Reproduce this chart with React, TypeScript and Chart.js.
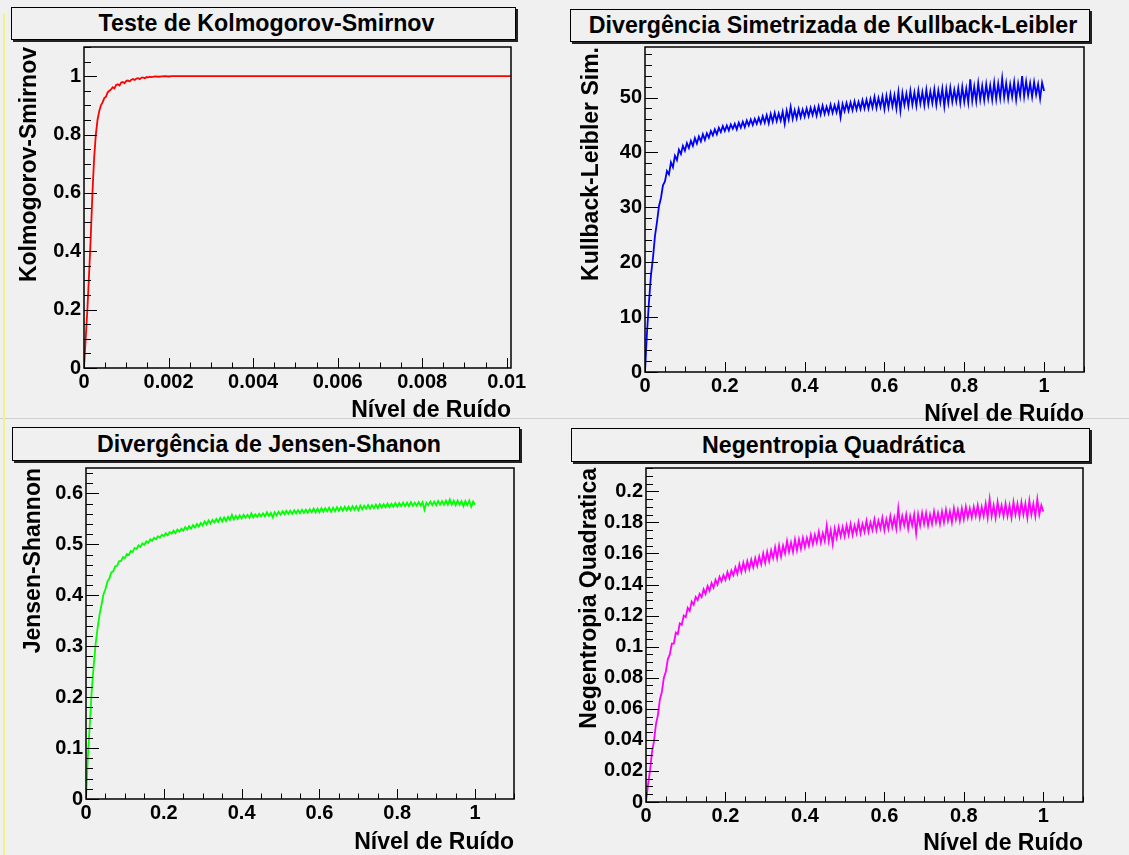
import React, { useEffect, useRef } from "react";
import { Chart, registerables } from "chart.js";

Chart.register(...registerables);

const FONT = "'Liberation Sans', Arial, Helvetica, sans-serif";

// ---------- data ----------
// Panel 1: Kolmogorov-Smirnov (x = noise level, 0 .. 0.0101)
const KS_NOISE = [
  0, 0.00004, 0.00008, 0.00012, 0.00016, 0.0002, 0.00024, 0.00028, 0.00032, 0.00036,
  0.0004, 0.00044, 0.00048, 0.00052, 0.00056, 0.0006, 0.00064, 0.00068, 0.00072, 0.00076,
  0.0008, 0.00084, 0.00088, 0.00092, 0.00096, 0.001, 0.00104, 0.00108, 0.00112, 0.00116,
  0.0012, 0.00124, 0.00128, 0.00132, 0.00136, 0.0014, 0.00144, 0.00148, 0.00152, 0.00156,
  0.0016, 0.00168, 0.00176, 0.00184, 0.00192, 0.002, 0.00208, 0.0022, 0.0101,
];
const KS_VALUES = [
  0, 0.1, 0.2, 0.32, 0.45, 0.6, 0.72, 0.8, 0.85, 0.88,
  0.9, 0.91, 0.925, 0.93, 0.945, 0.95, 0.955, 0.962, 0.958, 0.97,
  0.972, 0.968, 0.978, 0.98, 0.976, 0.984, 0.985, 0.982, 0.988, 0.99,
  0.987, 0.992, 0.993, 0.99, 0.995, 0.995, 0.993, 0.997, 0.996, 0.998,
  0.997, 0.999, 0.998, 0.999, 1, 0.999, 1, 1, 1,
];

// Panels 2-4 share the noise-level grid 0 .. 1 (step 0.005)
const NOISE_LEVELS = [
  0, 0.005, 0.01, 0.015, 0.02, 0.025, 0.03, 0.035, 0.04, 0.045,
  0.05, 0.055, 0.06, 0.065, 0.07, 0.075, 0.08, 0.085, 0.09, 0.095,
  0.1, 0.105, 0.11, 0.115, 0.12, 0.125, 0.13, 0.135, 0.14, 0.145,
  0.15, 0.155, 0.16, 0.165, 0.17, 0.175, 0.18, 0.185, 0.19, 0.195,
  0.2, 0.205, 0.21, 0.215, 0.22, 0.225, 0.23, 0.235, 0.24, 0.245,
  0.25, 0.255, 0.26, 0.265, 0.27, 0.275, 0.28, 0.285, 0.29, 0.295,
  0.3, 0.305, 0.31, 0.315, 0.32, 0.325, 0.33, 0.335, 0.34, 0.345,
  0.35, 0.355, 0.36, 0.365, 0.37, 0.375, 0.38, 0.385, 0.39, 0.395,
  0.4, 0.405, 0.41, 0.415, 0.42, 0.425, 0.43, 0.435, 0.44, 0.445,
  0.45, 0.455, 0.46, 0.465, 0.47, 0.475, 0.48, 0.485, 0.49, 0.495,
  0.5, 0.505, 0.51, 0.515, 0.52, 0.525, 0.53, 0.535, 0.54, 0.545,
  0.55, 0.555, 0.56, 0.565, 0.57, 0.575, 0.58, 0.585, 0.59, 0.595,
  0.6, 0.605, 0.61, 0.615, 0.62, 0.625, 0.63, 0.635, 0.64, 0.645,
  0.65, 0.655, 0.66, 0.665, 0.67, 0.675, 0.68, 0.685, 0.69, 0.695,
  0.7, 0.705, 0.71, 0.715, 0.72, 0.725, 0.73, 0.735, 0.74, 0.745,
  0.75, 0.755, 0.76, 0.765, 0.77, 0.775, 0.78, 0.785, 0.79, 0.795,
  0.8, 0.805, 0.81, 0.815, 0.82, 0.825, 0.83, 0.835, 0.84, 0.845,
  0.85, 0.855, 0.86, 0.865, 0.87, 0.875, 0.88, 0.885, 0.89, 0.895,
  0.9, 0.905, 0.91, 0.915, 0.92, 0.925, 0.93, 0.935, 0.94, 0.945,
  0.95, 0.955, 0.96, 0.965, 0.97, 0.975, 0.98, 0.985, 0.99, 0.995,
  1,
];

const KL_VALUES = [
  0, 7.2, 12.8, 17.7, 20.8, 24.8, 27.3, 30.2, 31.7, 34.0,
  34.7, 36.6, 36.0, 38.2, 37.3, 39.4, 38.6, 40.5, 39.7, 41.2,
  40.3, 41.7, 40.8, 42.1, 41.2, 42.6, 41.6, 42.9, 42.0, 43.3,
  42.3, 43.5, 42.7, 43.9, 43.1, 44.2, 43.3, 44.5, 43.7, 44.8,
  43.9, 44.9, 44.0, 45.1, 44.3, 45.2, 44.2, 45.4, 44.5, 45.6,
  44.6, 45.8, 44.9, 46.0, 45.0, 46.1, 45.2, 46.3, 45.3, 46.6,
  45.4, 46.8, 45.3, 47.0, 45.6, 47.2, 45.7, 47.1, 45.8, 47.4,
  45.2, 47.6, 46.0, 48.3, 46.1, 47.7, 46.2, 47.9, 46.4, 47.8,
  46.5, 48.0, 46.6, 48.1, 46.8, 48.2, 46.7, 48.4, 46.9, 48.5,
  47.0, 48.3, 47.1, 48.7, 47.2, 48.6, 47.3, 48.9, 46.4, 48.8,
  47.5, 49.0, 47.6, 49.1, 47.7, 49.3, 47.8, 49.2, 47.9, 49.5,
  48.0, 49.6, 48.0, 49.7, 48.2, 50.1, 48.1, 49.9, 48.3, 50.2,
  47.9, 50.3, 48.2, 50.6, 48.4, 50.4, 48.0, 51.0, 47.6, 50.8,
  48.6, 50.7, 48.4, 51.2, 48.7, 50.9, 48.5, 51.3, 48.9, 51.0,
  48.6, 51.4, 48.8, 51.1, 49.0, 51.5, 48.7, 51.3, 49.1, 51.6,
  48.4, 51.5, 49.0, 51.8, 49.2, 51.4, 49.3, 51.7, 49.0, 51.9,
  49.2, 51.6, 49.1, 53.3, 49.4, 52.0, 49.3, 52.6, 49.6, 52.1,
  49.5, 52.4, 49.8, 52.2, 49.6, 52.7, 49.7, 52.5, 49.9, 53.5,
  50.0, 52.6, 49.8, 52.4, 50.1, 52.8, 49.6, 52.5, 50.3, 53.9,
  50.2, 52.9, 50.4, 52.6, 50.1, 52.8, 50.5, 52.4, 49.8, 52.7,
  51.2,
];

const JS_VALUES = [
  0, 0.086, 0.149, 0.216, 0.264, 0.306, 0.337, 0.363, 0.382, 0.402,
  0.412, 0.427, 0.433, 0.445, 0.447, 0.457, 0.458, 0.467, 0.467, 0.475,
  0.473, 0.481, 0.479, 0.487, 0.485, 0.493, 0.491, 0.498, 0.495, 0.502,
  0.499, 0.506, 0.503, 0.51, 0.507, 0.513, 0.51, 0.516, 0.513, 0.519,
  0.516, 0.522, 0.518, 0.524, 0.521, 0.527, 0.522, 0.529, 0.525, 0.531,
  0.527, 0.534, 0.529, 0.536, 0.531, 0.538, 0.533, 0.54, 0.535, 0.542,
  0.537, 0.545, 0.539, 0.547, 0.541, 0.548, 0.543, 0.55, 0.544, 0.552,
  0.545, 0.553, 0.546, 0.554, 0.548, 0.558, 0.549, 0.556, 0.55, 0.557,
  0.551, 0.558, 0.552, 0.558, 0.552, 0.561, 0.553, 0.559, 0.554, 0.56,
  0.555, 0.561, 0.555, 0.563, 0.556, 0.562, 0.553, 0.563, 0.557, 0.564,
  0.558, 0.565, 0.559, 0.566, 0.56, 0.566, 0.56, 0.567, 0.561, 0.567,
  0.561, 0.568, 0.562, 0.568, 0.562, 0.569, 0.563, 0.57, 0.563, 0.57,
  0.563, 0.571, 0.564, 0.571, 0.565, 0.572, 0.564, 0.572, 0.565, 0.573,
  0.566, 0.573, 0.566, 0.574, 0.567, 0.574, 0.567, 0.575, 0.568, 0.575,
  0.567, 0.576, 0.569, 0.576, 0.57, 0.577, 0.57, 0.577, 0.571, 0.578,
  0.571, 0.579, 0.572, 0.579, 0.573, 0.58, 0.573, 0.58, 0.574, 0.581,
  0.574, 0.581, 0.575, 0.582, 0.575, 0.582, 0.575, 0.583, 0.576, 0.582,
  0.576, 0.583, 0.576, 0.583, 0.568, 0.582, 0.577, 0.584, 0.577, 0.584,
  0.577, 0.585, 0.578, 0.585, 0.578, 0.586, 0.578, 0.588, 0.578, 0.586,
  0.577, 0.586, 0.578, 0.585, 0.575, 0.585, 0.577, 0.586, 0.574, 0.584,
  0.578,
];

const NQ_VALUES = [
  0, 0.011, 0.02, 0.032, 0.039, 0.05, 0.056, 0.066, 0.071, 0.08,
  0.084, 0.092, 0.095, 0.102, 0.102, 0.109, 0.108, 0.115, 0.114, 0.12,
  0.119, 0.125, 0.123, 0.129, 0.127, 0.132, 0.13, 0.134, 0.132, 0.137,
  0.134, 0.139, 0.136, 0.141, 0.138, 0.143, 0.14, 0.145, 0.142, 0.146,
  0.143, 0.148, 0.144, 0.149, 0.146, 0.151, 0.147, 0.153, 0.148, 0.154,
  0.149, 0.155, 0.15, 0.156, 0.151, 0.157, 0.152, 0.158, 0.153, 0.16,
  0.154, 0.161, 0.155, 0.162, 0.157, 0.164, 0.157, 0.165, 0.158, 0.165,
  0.16, 0.168, 0.161, 0.167, 0.161, 0.169, 0.162, 0.169, 0.163, 0.17,
  0.164, 0.17, 0.165, 0.172, 0.166, 0.172, 0.167, 0.174, 0.167, 0.173,
  0.168, 0.178, 0.168, 0.175, 0.166, 0.176, 0.17, 0.177, 0.171, 0.177,
  0.171, 0.178, 0.172, 0.179, 0.172, 0.178, 0.173, 0.18, 0.173, 0.179,
  0.174, 0.181, 0.174, 0.18, 0.175, 0.182, 0.175, 0.181, 0.176, 0.183,
  0.175, 0.182, 0.176, 0.184, 0.177, 0.183, 0.176, 0.189, 0.177, 0.184,
  0.178, 0.185, 0.176, 0.184, 0.178, 0.185, 0.173, 0.185, 0.178, 0.186,
  0.179, 0.186, 0.178, 0.185, 0.179, 0.187, 0.18, 0.186, 0.179, 0.187,
  0.18, 0.188, 0.181, 0.187, 0.18, 0.189, 0.182, 0.188, 0.181, 0.189,
  0.182, 0.19, 0.183, 0.189, 0.183, 0.19, 0.184, 0.191, 0.183, 0.19,
  0.184, 0.192, 0.183, 0.195, 0.184, 0.191, 0.183, 0.193, 0.185, 0.191,
  0.184, 0.192, 0.184, 0.191, 0.183, 0.193, 0.185, 0.192, 0.184, 0.193,
  0.185, 0.192, 0.183, 0.194, 0.185, 0.192, 0.184, 0.195, 0.185, 0.191,
  0.187,
];

// ---------- tick labels ----------
const KS_X_TICKS = [0, 0.002, 0.004, 0.006, 0.008, 0.01];
const KS_Y_TICKS = [0, 0.2, 0.4, 0.6, 0.8, 1];
const UNIT_X_TICKS = [0, 0.2, 0.4, 0.6, 0.8, 1];
const KL_Y_TICKS = [0, 10, 20, 30, 40, 50];
const JS_Y_TICKS = [0, 0.1, 0.2, 0.3, 0.4, 0.5, 0.6];
const NQ_Y_TICKS = [0, 0.02, 0.04, 0.06, 0.08, 0.1, 0.12, 0.14, 0.16, 0.18, 0.2];

const X_TITLE = "Nível de Ruído";

type Panel = {
  title: string;
  yTitle: string;
  color: string;
  xs: number[];
  ys: number[];
  xMax: number;
  yMax: number;
  xTicks: number[];
  yTicks: number[];
  xMinor: number;
  yMinor: number;
  pos: { left: number; top: number; width: number; height: number };
  area: { l: number; t: number; r: number; b: number };
  yTitlePad: number;
  xTitlePad: number;
  box: { x: number; y: number; w: number; h: number };
};

const PANELS: Panel[] = [
  {
    title: "Teste de Kolmogorov-Smirnov",
    yTitle: "Kolmogorov-Smirnov",
    color: "#ff0000",
    xs: KS_NOISE,
    ys: KS_VALUES,
    xMax: 0.0101,
    yMax: 1.1,
    xTicks: KS_X_TICKS,
    yTicks: KS_Y_TICKS,
    xMinor: 0.0005,
    yMinor: 0.05,
    pos: { left: 0, top: 0, width: 560, height: 428 },
    area: { l: 84, t: 47, r: 511, b: 368 },
    yTitlePad: 18,
    xTitlePad: 6,
    box: { x: 11, y: 7, w: 505, h: 33 },
  },
  {
    title: "Divergência Simetrizada de Kullback-Leibler",
    yTitle: "Kullback-Leibler Sim.",
    color: "#0000ff",
    xs: NOISE_LEVELS,
    ys: KL_VALUES,
    xMax: 1.1,
    yMax: 59.2,
    xTicks: UNIT_X_TICKS,
    yTicks: KL_Y_TICKS,
    xMinor: 0.05,
    yMinor: 2,
    pos: { left: 560, top: 0, width: 569, height: 428 },
    area: { l: 85, t: 47, r: 524, b: 372 },
    yTitlePad: 20,
    xTitlePad: 2,
    box: { x: 570, y: 9, w: 520, h: 33 },
  },
  {
    title: "Divergência de Jensen-Shanon",
    yTitle: "Jensen-Shannon",
    color: "#00ff00",
    xs: NOISE_LEVELS,
    ys: JS_VALUES,
    xMax: 1.1,
    yMax: 0.65,
    xTicks: UNIT_X_TICKS,
    yTicks: JS_Y_TICKS,
    xMinor: 0.05,
    yMinor: 0.02,
    pos: { left: 0, top: 420, width: 560, height: 435 },
    area: { l: 86, t: 48, r: 514, b: 379 },
    yTitlePad: 22,
    xTitlePad: 1,
    box: { x: 12, y: 427, w: 508, h: 34 },
  },
  {
    title: "Negentropia Quadrática",
    yTitle: "Negentropia Quadratica",
    color: "#ff00ff",
    xs: NOISE_LEVELS,
    ys: NQ_VALUES,
    xMax: 1.1,
    yMax: 0.215,
    xTicks: UNIT_X_TICKS,
    yTicks: NQ_Y_TICKS,
    xMinor: 0.05,
    yMinor: 0.005,
    pos: { left: 560, top: 420, width: 569, height: 435 },
    area: { l: 86, t: 48, r: 523, b: 382 },
    yTitlePad: 18,
    xTitlePad: 0,
    box: { x: 571, y: 428, w: 519, h: 34 },
  },
];

const rootFramePlugin = {
  id: "rootFrame",
  afterDatasetsDraw(chart: any, _args: any, opts: any) {
    const { ctx, chartArea: a, scales } = chart;
    const x = scales.x;
    const y = scales.y;
    ctx.save();
    ctx.strokeStyle = "#000";
    ctx.lineWidth = 1;
    ctx.beginPath();
    const eps = 1e-9;
    for (let k = 0; k * opts.xMinor <= opts.xMax + eps; k++) {
      const v = k * opts.xMinor;
      const major = opts.xTicks.some((t: number) => Math.abs(t - v) < opts.xMinor / 10);
      const px = Math.round(x.getPixelForValue(v)) + 0.5;
      ctx.moveTo(px, a.bottom);
      ctx.lineTo(px, a.bottom - (major ? 10 : 5.5));
    }
    for (let k = 0; k * opts.yMinor <= opts.yMax + eps; k++) {
      const v = k * opts.yMinor;
      const major = opts.yTicks.some((t: number) => Math.abs(t - v) < opts.yMinor / 10);
      const py = Math.round(y.getPixelForValue(v)) + 0.5;
      ctx.moveTo(a.left, py);
      ctx.lineTo(a.left + (major ? 13 : 7), py);
    }
    ctx.stroke();
    ctx.lineWidth = 1.5;
    ctx.strokeRect(a.left, a.top, a.right - a.left, a.bottom - a.top);
    ctx.restore();
  },
};

function PanelChart({ p }: { p: Panel }) {
  const ref = useRef<HTMLCanvasElement | null>(null);
  useEffect(() => {
    if (!ref.current) return;
    const { width: W, height: H } = p.pos;
    const tickFont = { family: FONT, size: 20, weight: "bold" as const };
    const titleFont = { family: FONT, size: 23, weight: "bold" as const, lineHeight: 1 };
    const chart = new Chart(ref.current, {
      type: "line",
      data: {
        datasets: [
          {
            data: p.xs.map((xv, i) => ({ x: xv, y: p.ys[i] })),
            borderColor: p.color,
            borderWidth: 1.8,
            pointRadius: 0,
            tension: 0,
            fill: false,
          },
        ],
      },
      options: {
        responsive: false,
        animation: false,
        devicePixelRatio: 1,
        events: [],
        layout: {
          padding: { left: 0, top: p.area.t, right: W - p.area.r, bottom: 0 },
        },
        plugins: {
          legend: { display: false },
          tooltip: { enabled: false },
          title: { display: false },
          rootFrame: {
            xMinor: p.xMinor,
            yMinor: p.yMinor,
            xMax: p.xMax,
            yMax: p.yMax,
            xTicks: p.xTicks,
            yTicks: p.yTicks,
          },
        } as any,
        scales: {
          x: {
            type: "linear",
            position: "bottom",
            min: 0,
            max: p.xMax,
            grid: { display: false, drawTicks: false },
            border: { display: false },
            afterBuildTicks: (s: any) => {
              s.ticks = p.xTicks.map((v) => ({ value: v }));
            },
            afterFit: (s: any) => {
              s.height = H - p.area.b;
            },
            ticks: {
              autoSkip: false,
              maxRotation: 0,
              minRotation: 0,
              padding: 2,
              color: "#000",
              font: tickFont,
              callback: (v: any) => String(v),
            },
            title: {
              display: true,
              text: X_TITLE,
              align: "end",
              color: "#000",
              font: titleFont,
              padding: { top: 0, bottom: p.xTitlePad },
            },
          },
          y: {
            type: "linear",
            position: "left",
            min: 0,
            max: p.yMax,
            grid: { display: false, drawTicks: false },
            border: { display: false },
            afterBuildTicks: (s: any) => {
              s.ticks = p.yTicks.map((v) => ({ value: v }));
            },
            afterFit: (s: any) => {
              s.width = p.area.l;
            },
            ticks: {
              autoSkip: false,
              padding: 3,
              color: "#000",
              font: tickFont,
              callback: (v: any) => String(v),
            },
            title: {
              display: true,
              text: p.yTitle,
              align: "end",
              color: "#000",
              font: titleFont,
              padding: { top: p.yTitlePad, bottom: 0 },
            },
          },
        },
      } as any,
      plugins: [rootFramePlugin],
    });
    return () => chart.destroy();
  }, [p]);

  return (
    <canvas
      ref={ref}
      width={p.pos.width}
      height={p.pos.height}
      style={{
        position: "absolute",
        left: p.pos.left,
        top: p.pos.top,
        width: p.pos.width,
        height: p.pos.height,
      }}
    />
  );
}

export default function App() {
  useEffect(() => {
    document.body.style.margin = "0";
    document.body.style.overflow = "hidden";
  }, []);
  return (
    <div
      style={{
        position: "relative",
        width: 1129,
        height: 855,
        background: "#f0f0f0",
        overflow: "hidden",
      }}
    >
      <div
        style={{
          position: "absolute",
          left: 0,
          top: 418,
          width: 1129,
          height: 1,
          background: "#cfcfcf",
        }}
      />
      <div
        style={{
          position: "absolute",
          left: 3,
          top: 14,
          width: 2,
          height: 841,
          background: "#f2f28a",
        }}
      />
      {PANELS.map((p, i) => (
        <div
          key={"box" + i}
          style={{
            position: "absolute",
            left: p.box.x,
            top: p.box.y,
            width: p.box.w,
            height: p.box.h,
            boxSizing: "border-box",
            border: "1px solid #000",
            boxShadow: "2px 2px 0 #222",
            background: "#f0f0f0",
            display: "flex",
            alignItems: "center",
            justifyContent: "center",
            fontFamily: FONT,
            fontWeight: "bold",
            fontSize: 23.2,
            color: "#000",
            whiteSpace: "nowrap",
            paddingLeft: 6,
          }}
        >
          {p.title}
        </div>
      ))}
      {PANELS.map((p, i) => (
        <PanelChart key={"c" + i} p={p} />
      ))}
    </div>
  );
}
